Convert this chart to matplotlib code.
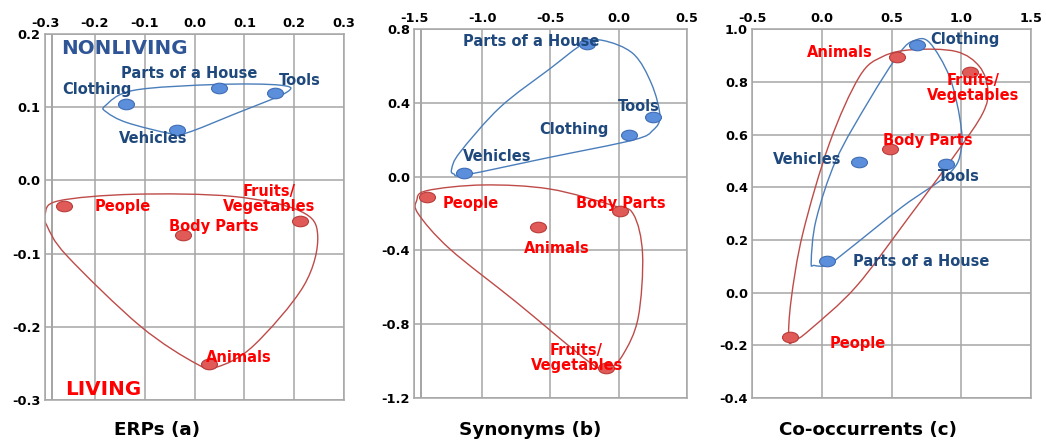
import numpy as np
import matplotlib
matplotlib.use("Agg")
import matplotlib.pyplot as plt
from matplotlib.path import Path
from matplotlib.patches import PathPatch

# ---------------- data ----------------
nonliving = ["Clothing", "Parts of a House", "Tools", "Vehicles"]
living = ["People", "Body Parts", "Fruits/\nVegetables", "Animals"]

# Panel (a) ERPs
a_nl_x = [-0.137, 0.050, 0.162, -0.035]
a_nl_y = [0.105, 0.126, 0.120, 0.069]
a_lv_x = [-0.262, -0.024, 0.212, 0.028]
a_lv_y = [-0.035, -0.075, -0.056, -0.251]
a_nl_lab = [(-0.266, 0.124), (-0.148, 0.146), (0.169, 0.136), (-0.151, 0.057)]
a_lv_lab = [(-0.200, -0.036), (-0.051, -0.063), (0.150, -0.026), (0.023, -0.242)]
a_nl_loop = [(-0.179, 0.102), (-0.122, 0.123), (0.045, 0.131), (0.172, 0.130),
             (0.184, 0.120), (0.078, 0.090), (-0.015, 0.065), (-0.049, 0.064),
             (-0.136, 0.079), (-0.176, 0.093)]
a_lv_loop = [(-0.300, -0.046), (-0.273, -0.028), (-0.122, -0.019), (0.078, -0.022),
             (0.212, -0.042), (0.247, -0.076), (0.219, -0.144), (0.118, -0.226),
             (0.045, -0.255), (0.005, -0.251), (-0.109, -0.199), (-0.256, -0.103),
             (-0.296, -0.062)]

# Panel (b) Synonyms
b_nl_x = [0.076, -0.230, 0.254, -1.137]
b_nl_y = [0.226, 0.717, 0.324, 0.020]
b_lv_x = [-1.403, 0.010, -0.095, -0.594]
b_lv_y = [-0.109, -0.188, -1.035, -0.275]
b_nl_lab = [(-0.582, 0.253), (-1.139, 0.731), (-0.002, 0.380), (-1.139, 0.109)]
b_lv_lab = [(-1.291, -0.143), (-0.313, -0.143), (-0.308, -0.983), (-0.694, -0.387)]
b_nl_loop = [(-1.225, 0.042), (-1.164, 0.132), (-0.870, 0.376), (-0.504, 0.585),
             (-0.259, 0.720), (-0.112, 0.738), (0.108, 0.666), (0.242, 0.503),
             (0.303, 0.331), (0.254, 0.253), (0.108, 0.199), (-0.504, 0.105),
             (-1.115, 0.011), (-1.208, 0.014)]
b_lv_loop = [(-1.482, -0.130), (-1.408, -0.076), (-0.993, -0.045), (-0.504, -0.067),
             (-0.039, -0.157), (0.108, -0.203), (0.176, -0.420), (0.144, -0.764),
             (0.034, -0.963), (-0.076, -1.039), (-0.210, -1.008), (-0.748, -0.682),
             (-1.237, -0.393), (-1.469, -0.203)]

# Panel (c) Co-occurrents
c_nl_x = [0.683, 0.038, 0.891, 0.263]
c_nl_y = [0.939, 0.119, 0.489, 0.496]
c_lv_x = [-0.225, 0.487, 1.063, 0.542]
c_lv_y = [-0.167, 0.546, 0.839, 0.894]
c_nl_lab = [(0.779, 0.959), (0.227, 0.118), (0.831, 0.442), (-0.351, 0.504)]
c_lv_lab = [(0.055, -0.192), (0.437, 0.576), (1.082, 0.776), (-0.107, 0.911)]
c_nl_loop = [(-0.076, 0.118), (-0.041, 0.276), (0.103, 0.504), (0.342, 0.732),
             (0.557, 0.909), (0.664, 0.957), (0.772, 0.949), (0.915, 0.820),
             (0.991, 0.656), (0.999, 0.542), (0.915, 0.453), (0.580, 0.327),
             (0.174, 0.156), (0.043, 0.105), (-0.053, 0.103)]
c_lv_loop = [(-0.237, -0.180), (-0.220, -0.028), (-0.136, 0.225), (0.055, 0.567),
             (0.270, 0.820), (0.437, 0.896), (0.652, 0.922), (0.963, 0.915),
             (1.130, 0.858), (1.190, 0.770), (1.154, 0.681), (0.963, 0.529),
             (0.628, 0.289), (0.246, 0.023), (-0.088, -0.142), (-0.196, -0.182)]

panel_titles = ["ERPs (a)", "Synonyms (b)", "Co-occurrents (c)"]
a_xticks = [-0.3, -0.2, -0.1, 0.0, 0.1, 0.2, 0.3]
a_yticks = [-0.3, -0.2, -0.1, 0.0, 0.1, 0.2]
b_xticks = [-1.5, -1.0, -0.5, 0.0, 0.5]
b_yticks = [-1.2, -0.8, -0.4, 0.0, 0.4, 0.8]
c_xticks = [-0.5, 0.0, 0.5, 1.0, 1.5]
c_yticks = [-0.4, -0.2, 0.0, 0.2, 0.4, 0.6, 0.8, 1.0]

# ---------------- style ----------------
BLUE_TXT = "#1F497D"
RED_TXT = "#FF0000"
BLUE_LOOP = "#4A7EBB"
RED_LOOP = "#BE4B48"
BLUE_FACE = "#5B8EDB"
BLUE_EDGE = "#3F6DB5"
RED_FACE = "#E05A58"
RED_EDGE = "#B83C3A"
GRID = "#A6A6A6"
LAB_FS = 10.5

ell = Path.unit_circle()
ell = Path(ell.vertices * np.array([1.0, 0.66]), ell.codes)


def smooth_closed(pts):
    P = np.asarray(pts, float)
    n = len(P)
    verts = [P[0]]
    codes = [Path.MOVETO]
    for i in range(n):
        p0, p1, p2, p3 = P[i - 1], P[i], P[(i + 1) % n], P[(i + 2) % n]
        c1 = p1 + (p2 - p0) / 6.0
        c2 = p2 - (p3 - p1) / 6.0
        verts += [c1, c2, p2]
        codes += [Path.CURVE4] * 3
    return Path(verts, codes)


fig = plt.figure(figsize=(10.46, 4.41), dpi=100)

panels = [
    dict(rect=[0.043, 0.093, 0.286, 0.830], xlim=(-0.3, 0.3), ylim=(-0.3, 0.2),
         xt=a_xticks, yt=a_yticks, nlx=a_nl_x, nly=a_nl_y, lvx=a_lv_x, lvy=a_lv_y,
         nll=a_nl_lab, lvl=a_lv_lab, nlloop=a_nl_loop, lvloop=a_lv_loop,
         extra=-0.285, title_x=157 / 1046),
    dict(rect=[0.396, 0.0975, 0.2605, 0.8365], xlim=(-1.5, 0.5), ylim=(-1.2, 0.8),
         xt=b_xticks, yt=b_yticks, nlx=b_nl_x, nly=b_nl_y, lvx=b_lv_x, lvy=b_lv_y,
         nll=b_nl_lab, lvl=b_lv_lab, nlloop=b_nl_loop, lvloop=b_lv_loop,
         extra=-1.451, title_x=530 / 1046),
    dict(rect=[0.719, 0.0975, 0.2667, 0.8365], xlim=(-0.5, 1.5), ylim=(-0.4, 1.0),
         xt=c_xticks, yt=c_yticks, nlx=c_nl_x, nly=c_nl_y, lvx=c_lv_x, lvy=c_lv_y,
         nll=c_nl_lab, lvl=c_lv_lab, nlloop=c_nl_loop, lvloop=c_lv_loop,
         extra=None, title_x=868 / 1046),
]

for k, p in enumerate(panels):
    ax = fig.add_axes(p["rect"])
    ax.set_xlim(*p["xlim"])
    ax.set_ylim(*p["ylim"])
    ax.set_xticks(p["xt"])
    ax.set_yticks(p["yt"])
    ax.set_xticklabels([f"{v:.1f}" for v in p["xt"]])
    ax.set_yticklabels([f"{v:.1f}" for v in p["yt"]])
    ax.xaxis.tick_top()
    ax.tick_params(length=0, labelsize=9.3, pad=3)
    for lab in ax.get_xticklabels() + ax.get_yticklabels():
        lab.set_fontweight("bold")
    ax.grid(True, color=GRID, lw=1.1)
    ax.set_axisbelow(True)
    for s in ax.spines.values():
        s.set_color(GRID)
        s.set_linewidth(1.1)
    if p["extra"] is not None:
        ax.axvline(p["extra"], color="#8C8C8C", lw=1.1, zorder=0.5)

    ax.add_patch(PathPatch(smooth_closed(p["nlloop"]), fc="none", ec=BLUE_LOOP, lw=1.0, zorder=2))
    ax.add_patch(PathPatch(smooth_closed(p["lvloop"]), fc="none", ec=RED_LOOP, lw=1.0, zorder=2))

    ax.plot(p["nlx"], p["nly"], ls="none", marker=ell, ms=11.5,
            mfc=BLUE_FACE, mec=BLUE_EDGE, mew=0.8, zorder=3)
    ax.plot(p["lvx"], p["lvy"], ls="none", marker=ell, ms=11.5,
            mfc=RED_FACE, mec=RED_EDGE, mew=0.8, zorder=3)

    for name, (tx, ty) in zip(nonliving, p["nll"]):
        ax.text(tx, ty, name, color=BLUE_TXT, fontsize=LAB_FS, fontweight="bold",
                ha="left", va="center", zorder=4)
    for name, (tx, ty) in zip(living, p["lvl"]):
        if "\n" in name:
            ax.text(tx, ty, name, color=RED_TXT, fontsize=LAB_FS, fontweight="bold",
                    ha="center", va="center", linespacing=1.0, zorder=4,
                    multialignment="center")
        else:
            ax.text(tx, ty, name, color=RED_TXT, fontsize=LAB_FS, fontweight="bold",
                    ha="left", va="center", zorder=4)

    if k == 0:
        ax.text(-0.268, 0.180, "NONLIVING", color="#2F5597", fontsize=14.3,
                fontweight="bold", ha="left", va="center")
        ax.text(-0.260, -0.286, "LIVING", color=RED_TXT, fontsize=14.3,
                fontweight="bold", ha="left", va="center")

    fig.text(p["title_x"], 0.025, panel_titles[k], fontsize=13.2, fontweight="bold",
             ha="center", va="center")

fig.savefig("out.png", dpi=100)
